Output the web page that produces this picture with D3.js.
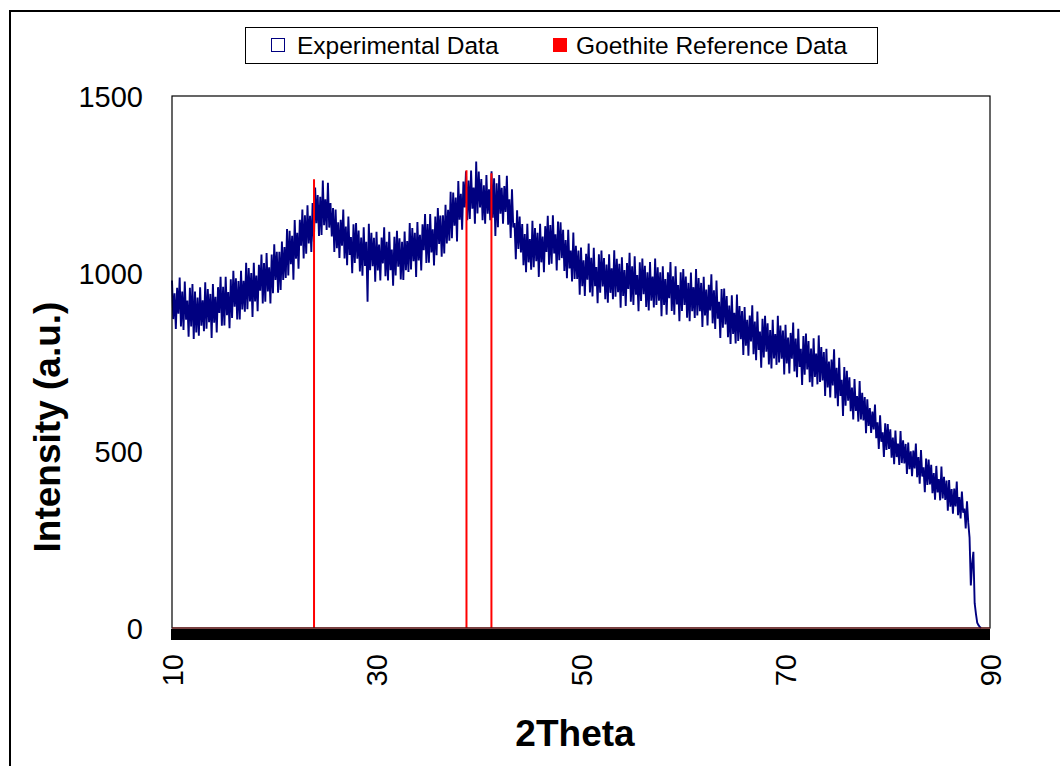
<!DOCTYPE html>
<html>
<head>
<meta charset="utf-8">
<script src="https://cdn.jsdelivr.net/npm/d3@7"></script>
<style>
    body { margin: 0; background: #fff; }
    svg { font-family: "Liberation Sans", Arial, sans-serif; }
</style>
</head>
<body>
<div id="chart"></div>
<script>
// scan starts at 10 deg 2theta, one reading every 0.125 deg (8 per row = 1 deg)
const scanStart = 10
const scanStep = 0.125
const intensity = [
    980, 871, 944, 843, 959, 886, 988, 850,         // 10
    949, 840, 977, 869, 923, 821, 959, 850,
    970, 815, 949, 833, 932, 824, 961, 852,
    924, 837, 975, 844, 956, 862, 942, 818,
    970, 861, 934, 833, 961, 888, 990, 852,
    962, 853, 990, 882, 947, 845, 983, 874,         // 15
    1007, 906, 986, 870, 978, 870, 1007, 898,
    979, 892, 1030, 899, 1015, 921, 1001, 877,
    1030, 921, 994, 893, 1024, 951, 1053, 915,
    1029, 920, 1057, 949, 1017, 915, 1053, 944,
    1082, 981, 1061, 945, 1061, 953, 1090, 981,     // 20
    1074, 987, 1125, 994, 1120, 1026, 1106, 982,
    1150, 1041, 1114, 1013, 1151, 1078, 1180, 1042,
    1164, 1055, 1192, 1084, 1162, 1060, 1198, 1089,
    1242, 1141, 1221, 1105, 1216, 1108, 1262, 1136,
    1209, 1122, 1255, 1129, 1198, 1104, 1184, 1060, // 25
    1180, 1071, 1144, 1043, 1151, 1078, 1180, 1042,
    1132, 1023, 1160, 1052, 1102, 1000, 1138, 1029,
    1142, 1041, 1121, 1005, 1101, 993, 1130, 1021,
    1089, 920, 1140, 1009, 1114, 1020, 1100, 976,
    1117, 1008, 1081, 980, 1101, 1028, 1130, 992,   // 30
    1089, 980, 1117, 1009, 1067, 965, 1103, 994,
    1120, 1019, 1099, 983, 1089, 981, 1118, 1009,
    1091, 1004, 1142, 1011, 1128, 1034, 1114, 990,
    1145, 1036, 1109, 1008, 1138, 1065, 1167, 1029,
    1139, 1030, 1167, 1059, 1124, 1022, 1160, 1051, // 35
    1184, 1083, 1163, 1047, 1164, 1056, 1193, 1084,
    1179, 1092, 1230, 1099, 1228, 1134, 1214, 1090,
    1260, 1151, 1224, 1123, 1259, 1186, 1288, 1150,
    1262, 1153, 1290, 1182, 1242, 1140, 1315, 1169,
    1287, 1186, 1266, 1150, 1248, 1140, 1277, 1168, // 40
    1237, 1150, 1288, 1157, 1268, 1105, 1254, 1130,
    1277, 1168, 1241, 1140, 1246, 1173, 1275, 1137,
    1209, 1100, 1237, 1129, 1142, 1040, 1178, 1069,
    1160, 1059, 1139, 1023, 1111, 1003, 1140, 1031,
    1097, 1010, 1148, 1017, 1128, 1034, 1114, 990,  // 45
    1140, 1031, 1104, 1003, 1133, 1060, 1162, 1024,
    1136, 1027, 1164, 1056, 1110, 1008, 1146, 1037,
    1144, 1043, 1123, 1007, 1094, 986, 1123, 1014,
    1064, 977, 1115, 984, 1078, 984, 1064, 940,
    1073, 964, 1037, 936, 1055, 982, 1084, 946,     // 50
    1044, 935, 1072, 964, 1018, 916, 1054, 945,
    1064, 963, 1043, 927, 1025, 917, 1054, 945,
    1014, 927, 1065, 934, 1041, 947, 1027, 903,
    1045, 936, 1009, 908, 1029, 956, 1058, 920,
    1020, 911, 1048, 940, 995, 893, 1031, 922,      // 55
    1042, 941, 1021, 905, 1003, 895, 1032, 923,
    991, 904, 1042, 911, 1017, 923, 1003, 879,
    1020, 911, 984, 883, 1003, 930, 1032, 894,
    992, 883, 1020, 912, 967, 865, 1003, 894,
    1012, 911, 991, 875, 973, 865, 1002, 893,       // 60
    961, 874, 1012, 881, 987, 893, 973, 849,
    990, 881, 954, 853, 968, 895, 997, 859,
    952, 843, 980, 872, 920, 818, 956, 847,
    957, 856, 936, 820, 909, 801, 938, 829,
    889, 802, 940, 809, 908, 814, 894, 770,         // 65
    905, 796, 869, 768, 881, 808, 910, 772,
    864, 755, 892, 784, 836, 734, 872, 763,
    880, 779, 859, 743, 840, 732, 869, 760,
    829, 742, 880, 749, 853, 759, 839, 715,
    855, 746, 819, 718, 832, 759, 861, 723,         // 70
    816, 707, 844, 736, 787, 685, 823, 714,
    830, 729, 809, 693, 788, 680, 817, 708,
    774, 687, 825, 694, 792, 698, 778, 654,
    787, 678, 751, 650, 757, 684, 786, 648,
    734, 625, 762, 654, 700, 598, 736, 627,         // 75
    725, 641, 707, 611, 678, 588, 702, 612,
    654, 582, 696, 588, 663, 585, 651, 549,
    645, 570, 620, 550, 610, 560, 630, 535,
    580, 505, 600, 525, 552, 482, 577, 502,
    575, 505, 560, 480, 537, 462, 557, 482,         // 80
    520, 460, 555, 465, 529, 464, 519, 434,
    523, 448, 498, 428, 500, 450, 520, 425,
    482, 407, 502, 427, 453, 383, 478, 403,
    475, 405, 460, 380, 437, 362, 457, 382,
    420, 360, 455, 365, 426, 361, 416, 331,         // 85
    417, 342, 392, 322, 393, 343, 413, 318,
    369, 309, 385, 325, 337, 281, 357, 297,
    255, 120, 180, 215, 70, 40, 15, 8,
    3, 0
]

// goethite reference lines
const refTheta = [23.89, 38.8, 41.24]
const refIntensity = [1265, 1291, 1282]

const yTicks = [0, 500, 1000, 1500]
const xTicks = [10, 30, 50, 70, 90]
const legendLabels = ["Experimental Data", "Goethite Reference Data"]

const expData = intensity.map((v, i) => ({ theta: scanStart + i * scanStep, value: v }))
const refData = refTheta.map((t, i) => ({ theta: t, value: refIntensity[i] }))

const dimensions = {
    width: 1060,
    height: 766,
    margin: { top: 96, right: 70, bottom: 138, left: 172 },
}
dimensions.boundedWidth = dimensions.width - dimensions.margin.left - dimensions.margin.right
dimensions.boundedHeight = dimensions.height - dimensions.margin.top - dimensions.margin.bottom

const wrapper = d3.select("#chart")
    .append("svg")
    .attr("width", dimensions.width)
    .attr("height", dimensions.height)

// outer chart frame (runs off the right and bottom edges)
wrapper.append("rect")
    .attr("x", 10)
    .attr("y", 11)
    .attr("width", 1060)
    .attr("height", 770)
    .attr("fill", "none")
    .attr("stroke", "#000")
    .attr("stroke-width", 2)

const bounds = wrapper.append("g")
    .attr("transform", `translate(${dimensions.margin.left},${dimensions.margin.top})`)

const xScale = d3.scaleLinear()
    .domain([10, 90])
    .range([0, dimensions.boundedWidth])

const yScale = d3.scaleLinear()
    .domain([0, 1500])
    .range([dimensions.boundedHeight, 0])

// experimental pattern
const lineGenerator = d3.line()
    .x(d => xScale(d.theta))
    .y(d => yScale(d.value))

bounds.append("path")
    .attr("d", lineGenerator(expData))
    .attr("fill", "none")
    .attr("stroke", "#000080")
    .attr("stroke-width", 1.9)

// reference sticks
bounds.selectAll(".ref")
    .data(refData)
    .join("line")
    .attr("class", "ref")
    .attr("x1", d => xScale(d.theta))
    .attr("x2", d => xScale(d.theta))
    .attr("y1", yScale(0))
    .attr("y2", d => yScale(d.value))
    .attr("stroke", "#ff0000")
    .attr("stroke-width", 2)

// plot frame
bounds.append("rect")
    .attr("width", dimensions.boundedWidth)
    .attr("height", dimensions.boundedHeight)
    .attr("fill", "none")
    .attr("stroke", "#000")
    .attr("stroke-width", 1.2)

// heavy baseline band under the zero line
bounds.append("rect")
    .attr("x", -1)
    .attr("y", yScale(0) + 1)
    .attr("width", dimensions.boundedWidth + 1)
    .attr("height", 11)
    .attr("fill", "#000")
bounds.append("line")
    .attr("x1", 0)
    .attr("x2", dimensions.boundedWidth)
    .attr("y1", yScale(0))
    .attr("y2", yScale(0))
    .attr("stroke", "#8b1a1a")
    .attr("stroke-width", 1.2)

// axes
const yAxisGenerator = d3.axisLeft(yScale)
    .tickValues(yTicks)
    .tickFormat(d3.format("d"))
    .tickSize(0)
    .tickPadding(29)

const yAxis = bounds.append("g")
    .call(yAxisGenerator)
yAxis.select(".domain").remove()
yAxis.selectAll("text")
    .attr("font-size", 29)
    .attr("font-family", "Liberation Sans, Arial, sans-serif")
    .attr("fill", "#000")
    .attr("dy", "0.36em")

const xAxisGenerator = d3.axisBottom(xScale)
    .tickValues(xTicks)
    .tickFormat(d3.format("d"))
    .tickSize(0)

const xAxis = bounds.append("g")
    .attr("transform", `translate(0,${dimensions.boundedHeight})`)
    .call(xAxisGenerator)
xAxis.select(".domain").remove()
xAxis.selectAll("text")
    .attr("font-size", 29)
    .attr("font-family", "Liberation Sans, Arial, sans-serif")
    .attr("fill", "#000")
    .attr("text-anchor", "end")
    .attr("transform", "rotate(-90)")
    .attr("x", -26)
    .attr("y", 0)
    .attr("dy", "0.36em")

// axis titles
wrapper.append("text")
    .attr("x", dimensions.margin.left + xScale(50) - 6)
    .attr("y", 746)
    .attr("text-anchor", "middle")
    .attr("font-size", 37)
    .attr("font-weight", "bold")
    .text("2Theta")

wrapper.append("text")
    .attr("transform", `translate(60,${dimensions.margin.top + dimensions.boundedHeight / 2 + 65}) rotate(-90)`)
    .attr("text-anchor", "middle")
    .attr("font-size", 37)
    .attr("font-weight", "bold")
    .text("Intensity (a.u.)")

// legend
const legend = wrapper.append("g")
legend.append("rect")
    .attr("x", 245.5)
    .attr("y", 27.5)
    .attr("width", 632)
    .attr("height", 36)
    .attr("fill", "#fff")
    .attr("stroke", "#000")
    .attr("stroke-width", 1)

legend.append("rect")
    .attr("x", 271.5)
    .attr("y", 38.5)
    .attr("width", 13)
    .attr("height", 13)
    .attr("fill", "#fff")
    .attr("stroke", "#000080")
    .attr("stroke-width", 1)
legend.append("text")
    .attr("x", 297)
    .attr("y", 54)
    .attr("font-size", 24.5)
    .text(legendLabels[0])

legend.append("rect")
    .attr("x", 553)
    .attr("y", 38)
    .attr("width", 14)
    .attr("height", 14)
    .attr("fill", "#ff0000")
legend.append("text")
    .attr("x", 576)
    .attr("y", 54)
    .attr("font-size", 24.5)
    .text(legendLabels[1])
</script>
</body>
</html>
